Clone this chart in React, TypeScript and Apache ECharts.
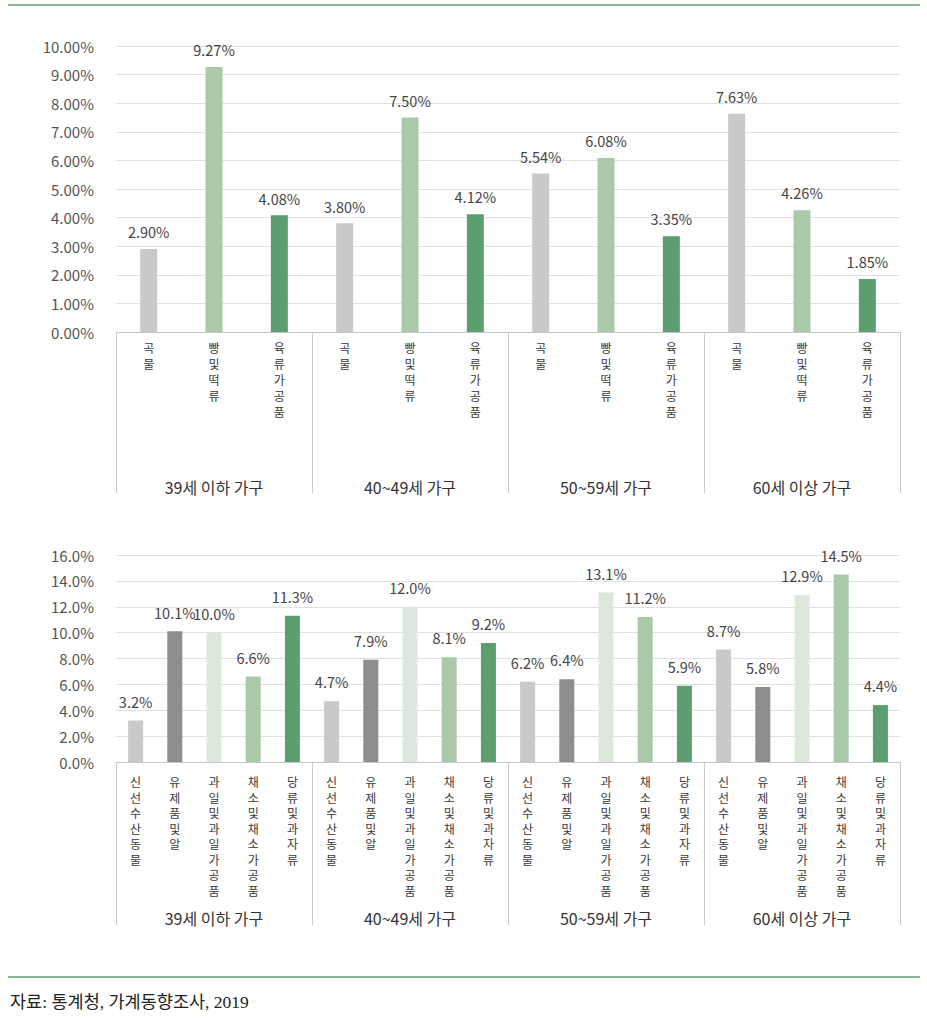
import React, { useEffect, useRef } from "react";
import * as echarts from "echarts";

// ---- data ----
const ageGroups = ["39세 이하 가구", "40~49세 가구", "50~59세 가구", "60세 이상 가구"];

const topItems = ["곡물", "빵및떡류", "육류가공품"];
const grainVals = [2.9, 3.8, 5.54, 7.63];
const breadVals = [9.27, 7.5, 6.08, 4.26];
const meatVals = [4.08, 4.12, 3.35, 1.85];
const topTicks = { min: 0, max: 10, interval: 1 };

const bottomItems = ["신선수산동물", "유제품및알", "과일및과일가공품", "채소및채소가공품", "당류및과자류"];
const fishVals = [3.2, 4.7, 6.2, 8.7];
const dairyVals = [10.1, 7.9, 6.4, 5.8];
const fruitVals = [10.0, 12.0, 13.1, 12.9];
const vegVals = [6.6, 8.1, 11.2, 14.5];
const sugarVals = [11.3, 9.2, 5.9, 4.4];
const bottomTicks = { min: 0, max: 16, interval: 2 };

const sourceText = "자료: 통계청, 가계동향조사, 2019";

// ---- styles ----
const FONT = "'Noto Sans CJK KR', 'Noto Sans', sans-serif";
const topColors = ["#c9c9c9", "#a9c9a9", "#5c9e70"];
const bottomColors = ["#c9c9c9", "#8e8e8e", "#dce8dc", "#a9c9a9", "#5c9e70"];
const GREEN = "#62a072";

export default function App() {
  const ref = useRef<HTMLDivElement>(null);
  useEffect(() => {
    if (!ref.current) return;
    const chart = echarts.init(ref.current, null, { renderer: "svg" });

    const topSeriesVals = [grainVals, breadVals, meatVals];
    const topCats: string[] = [];
    const topData: any[] = [];
    ageGroups.forEach((g, gi) => {
      topItems.forEach((it, ii) => {
        topCats.push(gi + "|" + it);
        topData.push({ value: topSeriesVals[ii][gi], itemStyle: { color: topColors[ii] } });
      });
    });

    const bottomSeriesVals = [fishVals, dairyVals, fruitVals, vegVals, sugarVals];
    const bottomCats: string[] = [];
    const bottomData: any[] = [];
    ageGroups.forEach((g, gi) => {
      bottomItems.forEach((it, ii) => {
        bottomCats.push(gi + "|" + it);
        bottomData.push({ value: bottomSeriesVals[ii][gi], itemStyle: { color: bottomColors[ii] } });
      });
    });

    const stack = (v: string) => v.split("|")[1].split("").join("\n");

    const catAxis = (gridIndex: number, data: string[], margin: number, fontSize: number, lineHeight: number) => ({
      gridIndex,
      type: "category",
      data,
      position: "bottom",
      axisLine: { show: true, lineStyle: { color: "#c8c8c8", width: 1 } },
      axisTick: { show: false },
      axisLabel: {
        interval: 0,
        margin,
        formatter: stack,
        color: "#3a3a3a",
        fontSize,
        lineHeight,
        fontFamily: FONT,
        verticalAlign: "top",
      },
    });

    const groupAxis = (gridIndex: number, tickLen: number, margin: number) => ({
      gridIndex,
      type: "category",
      data: ageGroups,
      position: "bottom",
      axisLine: { show: false },
      axisTick: { show: true, interval: 0, length: tickLen, lineStyle: { color: "#c8c8c8", width: 1 } },
      axisLabel: {
        interval: 0,
        margin,
        color: "#333",
        fontSize: 16,
        fontFamily: FONT,
        verticalAlign: "top",
      },
    });

    const valAxis = (gridIndex: number, t: any, digits: number) => ({
      gridIndex,
      type: "value",
      min: t.min,
      max: t.max,
      interval: t.interval,
      axisLine: { show: false },
      axisTick: { show: false },
      splitLine: { lineStyle: { color: "#e0e0e0", width: 1 } },
      axisLabel: {
        margin: 22,
        color: "#555",
        fontSize: 15,
        fontFamily: FONT,
        formatter: (v: number) => v.toFixed(digits) + "%",
      },
    });

    const option: any = {
      animation: false,
      textStyle: { fontFamily: FONT },
      grid: [
        { left: 116, right: 27, top: 46, height: 286 },
        { left: 116, right: 27, top: 555, height: 207 },
      ],
      xAxis: [
        catAxis(0, topCats, 7, 12, 16),
        groupAxis(0, 161, 147),
        catAxis(1, bottomCats, 12, 12, 15.5),
        groupAxis(1, 163, 148),
      ],
      yAxis: [valAxis(0, topTicks, 2), valAxis(1, bottomTicks, 1)],
      series: [
        {
          type: "bar",
          xAxisIndex: 0,
          yAxisIndex: 0,
          data: topData,
          barWidth: 17,
          label: {
            show: true,
            position: "top",
            distance: 10,
            color: "#444",
            fontSize: 14.5,
            fontFamily: FONT,
            formatter: (p: any) => p.value.toFixed(2) + "%",
          },
        },
        {
          type: "bar",
          xAxisIndex: 2,
          yAxisIndex: 1,
          data: bottomData,
          barWidth: 15,
          label: {
            show: true,
            position: "top",
            distance: 12,
            color: "#444",
            fontSize: 14.5,
            fontFamily: FONT,
            formatter: (p: any) => p.value.toFixed(1) + "%",
          },
        },
      ],
      graphic: [
        { type: "line", shape: { x1: 8, y1: 5, x2: 920, y2: 5 }, style: { stroke: GREEN, lineWidth: 1.5 } },
        { type: "line", shape: { x1: 8, y1: 977, x2: 920, y2: 977 }, style: { stroke: GREEN, lineWidth: 1.5 } },
        {
          type: "text",
          x: 10,
          y: 1002,
          style: {
            text: sourceText,
            fill: "#222",
            fontSize: 17.5,
            fontFamily: "'Liberation Serif', 'DejaVu Serif', 'Noto Sans CJK KR', serif",
            verticalAlign: "middle",
          },
        },
      ],
    };

    chart.setOption(option);
    return () => chart.dispose();
  }, []);

  return (
    <div
      ref={ref}
      style={{ position: "absolute", left: 0, top: 0, width: 927, height: 1022, background: "#fff" }}
    />
  );
}
